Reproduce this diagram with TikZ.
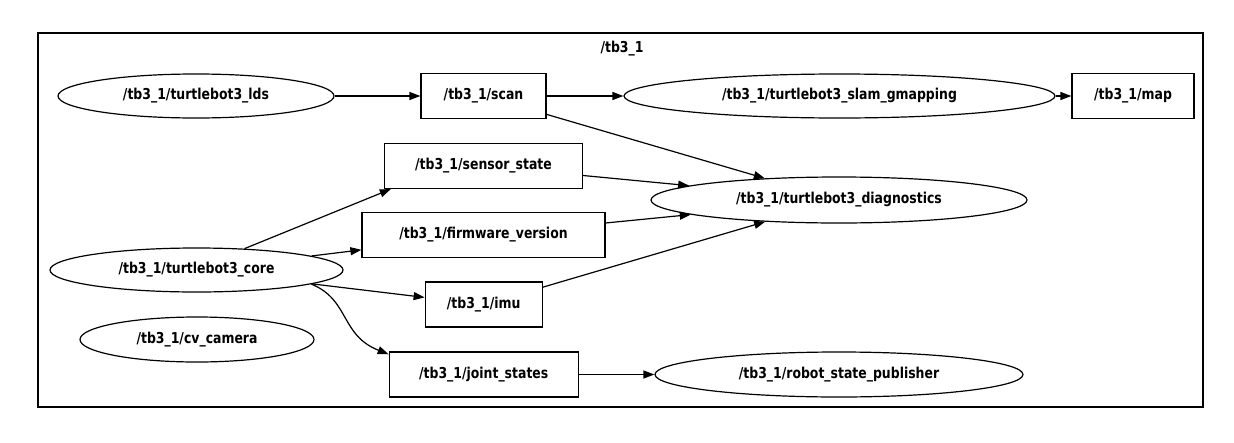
\documentclass[tikz,border=0pt]{standalone}
\usepackage{fontspec}
\newfontfamily\gfont[FakeStretch=0.83]{DejaVu Sans}
\usetikzlibrary{arrows.meta,shapes.geometric}
\tikzset{
  lbl/.style={font=\gfont\bfseries\fontsize{15}{17}\selectfont, inner sep=0pt},
  topic/.style={lbl, draw, line width=1.2pt, rectangle, minimum height=45pt},
  nodeel/.style={lbl, draw, line width=1.2pt, ellipse, minimum height=44pt},
  edge/.style={line width=1.2pt, -{Triangle[length=11pt,width=8pt]}}
}
\begin{document}
\begin{tikzpicture}[x=1pt,y=-1pt]
\useasboundingbox (0,0) rectangle (1234,442);
\draw[line width=1.2pt] (38,33) rectangle (1203,407);
\node[lbl] (title) at (622,49) {/tb3\_1};
\node[nodeel, minimum width=276pt] (lds) at (196,96) {/tb3\_1/turtlebot3\_lds};
\node[topic, minimum width=125pt] (scan) at (483.5,96) {/tb3\_1/scan};
\node[nodeel, minimum width=431pt] (slam) at (839.5,96) {/tb3\_1/turtlebot3\_slam\_gmapping};
\node[topic, minimum width=122pt] (map) at (1133,96) {/tb3\_1/map};
\node[topic, minimum width=198pt] (sens) at (483.5,166) {/tb3\_1/sensor\_state};
\node[nodeel, minimum width=376pt, minimum height=46pt] (diag) at (839,200) {/tb3\_1/turtlebot3\_diagnostics};
\node[topic, minimum width=243pt] (firm) at (483.5,235) {/tb3\_1/firmware\_version};
\node[nodeel, minimum width=293pt] (core) at (196.5,270) {/tb3\_1/turtlebot3\_core};
\node[topic, minimum width=117pt] (imu) at (483.7,304.5) {/tb3\_1/imu};
\node[nodeel, minimum width=234pt, minimum height=45pt] (cv) at (197,339.5) {/tb3\_1/cv\_camera};
\node[topic, minimum width=189pt] (js) at (483.7,374.5) {/tb3\_1/joint\_states};
\node[nodeel, minimum width=368pt, minimum height=45pt] (rsp) at (839,374.5) {/tb3\_1/robot\_state\_publisher};
\draw[edge] (lds) -- (scan);
\draw[edge] (scan) -- (slam);
\draw[edge] (slam) -- (map);
\draw[edge] (scan) -- (diag);
\draw[edge] (sens) -- (diag);
\draw[edge] (firm) -- (diag);
\draw[edge] (imu) -- (diag);
\draw[edge] (core.24) -- (sens.194);
\draw[edge] (core) -- (firm);
\draw[edge] (core) -- (imu);
\draw[edge] (core.-7) .. controls (350,300) and (340,335) .. (js.168);
\draw[edge] (js) -- (rsp);
\end{tikzpicture}
\end{document}
